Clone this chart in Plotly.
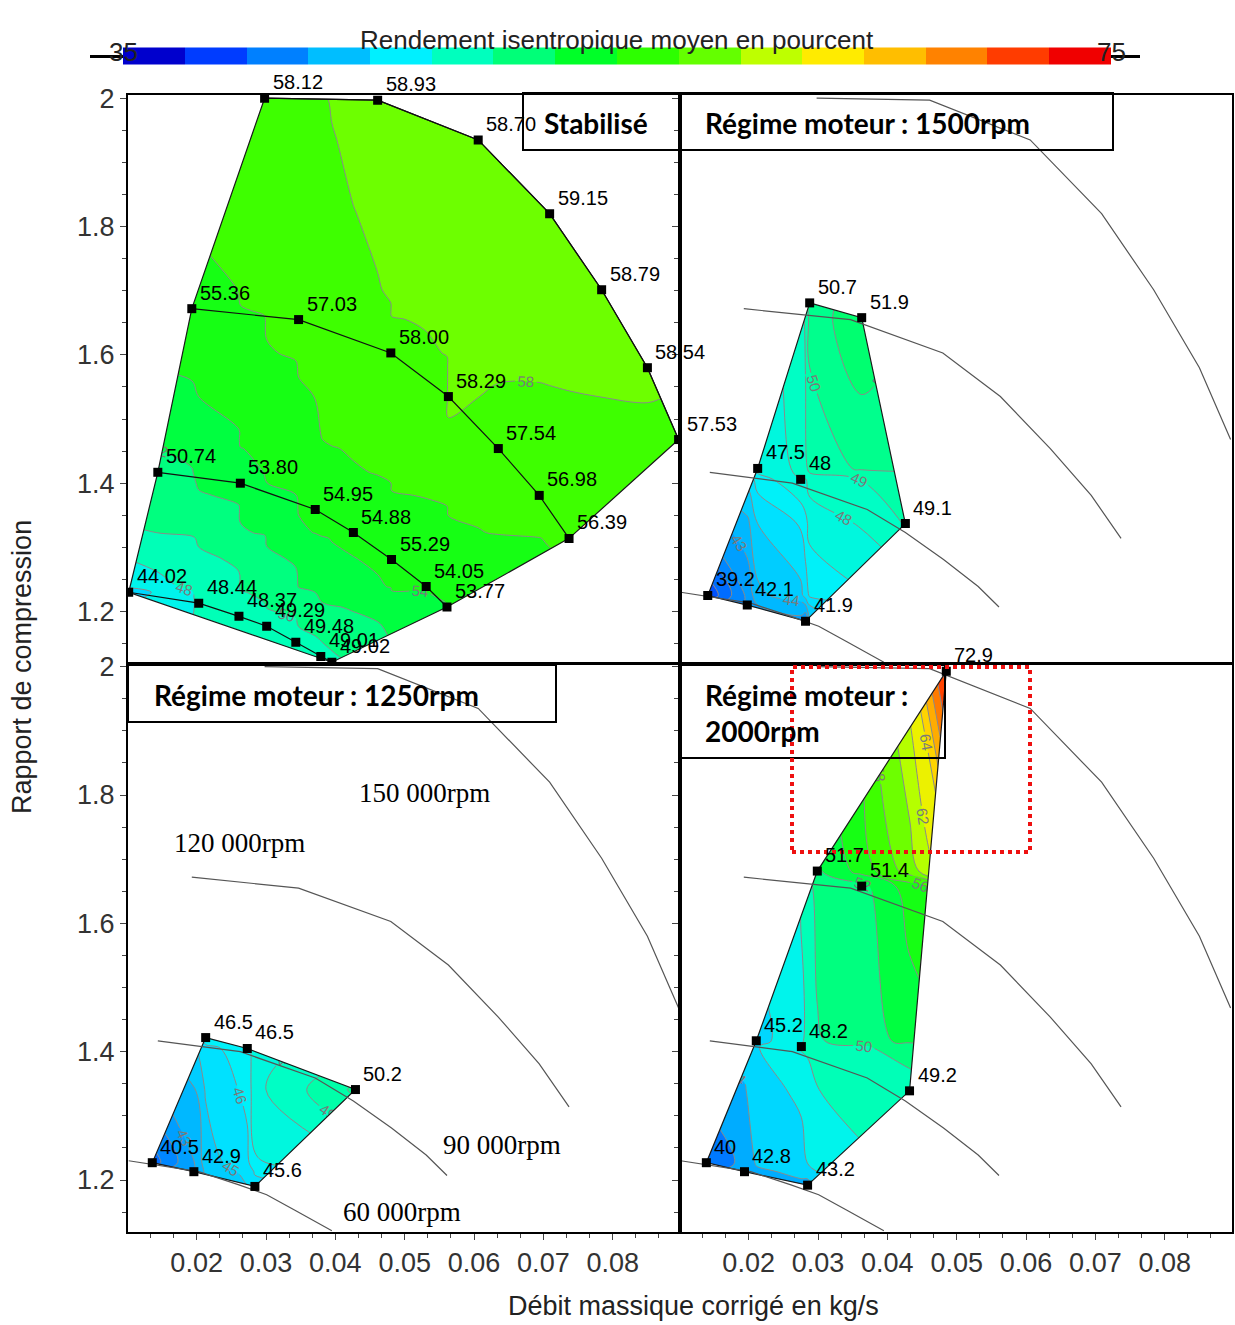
import plotly.graph_objects as go
from plotly.subplots import make_subplots

# ---------------------------------------------------------------
# Data
# x: corrected mass flow (kg/s), y: pressure ratio, eta: mean isentropic efficiency (%)
# ---------------------------------------------------------------
# Stabilised map: one list per iso-speed line
stab_150k_x = [0.0298, 0.0461, 0.0606, 0.0709, 0.0784, 0.0850, 0.0895]
stab_150k_y = [2.000, 1.997, 1.935, 1.820, 1.7015, 1.580, 1.468]
stab_150k_eta = [58.12, 58.93, 58.70, 59.15, 58.79, 58.54, 57.53]

stab_120k_x = [0.0193, 0.0347, 0.0480, 0.0563, 0.0635, 0.0694, 0.0737]
stab_120k_y = [1.672, 1.655, 1.603, 1.535, 1.454, 1.381, 1.314]
stab_120k_eta = [55.36, 57.03, 58.00, 58.29, 57.54, 56.98, 56.39]

stab_90k_x = [0.0144, 0.0263, 0.0371, 0.0426, 0.0481, 0.0531, 0.0561]
stab_90k_y = [1.417, 1.400, 1.359, 1.323, 1.281, 1.239, 1.207]
stab_90k_eta = [50.74, 53.80, 54.95, 54.88, 55.29, 54.05, 53.77]

stab_60k_x = [0.0102, 0.0203, 0.0261, 0.0301, 0.0343, 0.0379, 0.0395]
stab_60k_y = [1.230, 1.213, 1.1925, 1.177, 1.152, 1.130, 1.121]
stab_60k_eta = [44.02, 48.44, 48.37, 49.29, 49.48, 49.01, 49.02]

# Engine-speed maps: the first `*_outline` points go round the measured area,
# the remaining ones are inner points
r1500_x = [0.0288, 0.0363, 0.0426, 0.0282, 0.0198, 0.0141, 0.0213, 0.0275]
r1500_y = [1.681, 1.658, 1.337, 1.185, 1.210, 1.225, 1.423, 1.406]
r1500_eta = [50.7, 51.9, 49.1, 41.9, 42.1, 39.2, 47.5, 48.0]
r1500_outline = 7

r1250_x = [0.0213, 0.0273, 0.0429, 0.0284, 0.0196, 0.0136]
r1250_y = [1.422, 1.405, 1.341, 1.190, 1.213, 1.227]
r1250_eta = [46.5, 46.5, 50.2, 45.6, 42.9, 40.5]
r1250_outline = 6

r2000_x = [0.0485, 0.0432, 0.0285, 0.0194, 0.0139, 0.0211, 0.0299, 0.0363, 0.0276]
r2000_y = [1.993, 1.339, 1.192, 1.213, 1.227, 1.417, 1.6815, 1.658, 1.408]
r2000_eta = [72.9, 49.2, 43.2, 42.8, 40.0, 45.2, 51.7, 51.4, 48.2]
r2000_outline = 7

speed_names = ["150 000rpm", "120 000rpm", "90 000rpm", "60 000rpm"]
panel_titles = ["Stabilisé", "Régime moteur : 1500rpm",
                "Régime moteur : 1250rpm", "Régime moteur :<br>2000rpm"]
eta_min, eta_max = 35, 75
x_ticks = [0.02, 0.03, 0.04, 0.05, 0.06, 0.07, 0.08]
y_ticks = [1.2, 1.4, 1.6, 1.8, 2.0]
y_ticktext = ["1.2", "1.4", "1.6", "1.8", "2"]

# ---------------------------------------------------------------
# Styling helpers
# ---------------------------------------------------------------
W, H = 1235, 1325
ML, MR, MT, MB = 128, 3, 95, 93
PW, PH = W - ML - MR, H - MT - MB


def PX(px):
    return (px - ML) / PW


def PY(py):
    return 1 - (py - MT) / PH


ANCHORS = [(35, (0, 0, 190)), (36.25, (0, 0, 205)), (38.75, (0, 60, 255)),
           (41.25, (0, 128, 255)), (43.75, (0, 190, 255)), (46.25, (0, 240, 255)),
           (48.75, (0, 255, 190)), (51.25, (0, 255, 120)), (53.75, (0, 255, 40)),
           (56.25, (45, 255, 0)), (58.75, (100, 255, 0)), (61.25, (190, 255, 0)),
           (63.75, (255, 235, 0)), (66.25, (255, 190, 0)), (68.75, (255, 130, 0)),
           (71.25, (255, 60, 0)), (73.75, (240, 0, 0)), (75, (225, 0, 0))]


def eta_color(v):
    if v <= ANCHORS[0][0]:
        c = ANCHORS[0][1]
    elif v >= ANCHORS[-1][0]:
        c = ANCHORS[-1][1]
    else:
        for (v0, c0), (v1, c1) in zip(ANCHORS[:-1], ANCHORS[1:]):
            if v0 <= v <= v1:
                f = (v - v0) / (v1 - v0)
                c = tuple(a + (b - a) * f for a, b in zip(c0, c1))
                break
    return "rgb(%d,%d,%d)" % tuple(round(t) for t in c)


def contour_scale(start, end, size):
    nc = int((end - start) // size) + 1
    dmin = start - size / 2
    dmax = start + (nc - 0.5) * size
    n = 80
    return [[i / n, eta_color(dmin + (dmax - dmin) * i / n)] for i in range(n + 1)]


def bar_scale(nblocks=16):
    cs = []
    for i in range(nblocks):
        mid = eta_min + (eta_max - eta_min) * (i + 0.5) / nblocks
        c = eta_color(mid)
        cs.append([i / nblocks, c])
        cs.append([(i + 1) / nblocks, c])
    return cs


fig = make_subplots(rows=2, cols=2, horizontal_spacing=0, vertical_spacing=0)

LABEL_FONT = dict(family="Liberation Sans, Arial, sans-serif", size=20, color="black")


def signed_area(xs, ys):
    n = len(xs)
    return sum(xs[i] * ys[(i + 1) % n] - xs[(i + 1) % n] * ys[i] for i in range(n))


def add_panel(row, col, xs, ys, zs, outline_x, outline_y, start, end, size):
    # contour field (plotly interpolates the scattered points itself)
    fig.add_trace(go.Contour(
        x=xs, y=ys, z=zs, connectgaps=True, autocontour=False,
        contours=dict(start=start, end=end, size=size, coloring="fill",
                      showlabels=True,
                      labelfont=dict(size=15, color="#7a7a7a",
                                     family="Liberation Sans, Arial")),
        colorscale=contour_scale(start, end, size), showscale=False,
        line=dict(color="#8a8a8a", width=1, smoothing=1),
        hoverinfo="skip"), row=row, col=col)
    # white mask outside the measured area
    rx = [-0.02, 0.12, 0.12, -0.02]
    ry = [0.9, 0.9, 2.3, 2.3]
    px_, py_ = list(outline_x), list(outline_y)
    if (signed_area(rx, ry) > 0) == (signed_area(px_, py_) > 0):
        px_, py_ = px_[::-1], py_[::-1]
    mx = rx + [rx[0]] + px_ + [px_[0], rx[0]]
    my = ry + [ry[0]] + py_ + [py_[0], ry[0]]
    fig.add_trace(go.Scatter(x=mx, y=my, mode="lines", fill="toself",
                             fillcolor="white", line=dict(width=0, color="white"),
                             hoverinfo="skip", showlegend=False), row=row, col=col)
    # outline
    fig.add_trace(go.Scatter(x=list(outline_x) + [outline_x[0]],
                             y=list(outline_y) + [outline_y[0]],
                             mode="lines", line=dict(color="#1a1a1a", width=1.2),
                             hoverinfo="skip", showlegend=False), row=row, col=col)


def add_speed_lines(row, col, color, width):
    for lx, ly in [(stab_150k_x, stab_150k_y), (stab_120k_x, stab_120k_y),
                   (stab_90k_x, stab_90k_y), (stab_60k_x, stab_60k_y)]:
        fig.add_trace(go.Scatter(x=lx, y=ly, mode="lines",
                                 line=dict(color=color, width=width),
                                 hoverinfo="skip", showlegend=False), row=row, col=col)


def add_points(row, col, xs, ys, zs, fmt):
    fig.add_trace(go.Scatter(x=xs, y=ys, mode="markers",
                             marker=dict(symbol="square", size=9, color="black"),
                             text=[fmt.format(v) for v in zs],
                             hovertemplate="%{x}, %{y}: %{text}<extra></extra>",
                             showlegend=False), row=row, col=col)
    idx = (row - 1) * 2 + col
    xr = "x" if idx == 1 else "x%d" % idx
    yr = "y" if idx == 1 else "y%d" % idx
    for x, y, z in zip(xs, ys, zs):
        fig.add_annotation(x=x, y=y, xref=xr, yref=yr, text=fmt.format(z),
                           showarrow=False, xanchor="left", yanchor="middle",
                           xshift=6, yshift=16, font=LABEL_FONT)


# ---- Stabilisé (top-left)
stab_x = stab_150k_x + stab_120k_x + stab_90k_x + stab_60k_x
stab_y = stab_150k_y + stab_120k_y + stab_90k_y + stab_60k_y
stab_eta = stab_150k_eta + stab_120k_eta + stab_90k_eta + stab_60k_eta
stab_out_x = stab_150k_x + [stab_120k_x[-1], stab_90k_x[-1], stab_60k_x[-1],
                            stab_60k_x[0], stab_90k_x[0], stab_120k_x[0]]
stab_out_y = stab_150k_y + [stab_120k_y[-1], stab_90k_y[-1], stab_60k_y[-1],
                            stab_60k_y[0], stab_90k_y[0], stab_120k_y[0]]
add_panel(1, 1, stab_x, stab_y, stab_eta, stab_out_x, stab_out_y, 34, 76, 2)
add_speed_lines(1, 1, "#111111", 1.2)
add_points(1, 1, stab_x, stab_y, stab_eta, "{:.2f}")

# ---- 1500 rpm (top-right)
add_panel(1, 2, r1500_x, r1500_y, r1500_eta, r1500_x[:r1500_outline],
          r1500_y[:r1500_outline], 35, 75, 1)
add_speed_lines(1, 2, "#555555", 1.2)
add_points(1, 2, r1500_x, r1500_y, r1500_eta, "{:g}")

# ---- 1250 rpm (bottom-left)
add_panel(2, 1, r1250_x, r1250_y, r1250_eta, r1250_x[:r1250_outline],
          r1250_y[:r1250_outline], 35, 75, 1)
add_speed_lines(2, 1, "#555555", 1.2)
add_points(2, 1, r1250_x, r1250_y, r1250_eta, "{:g}")

# ---- 2000 rpm (bottom-right)
add_panel(2, 2, r2000_x, r2000_y, r2000_eta, r2000_x[:r2000_outline],
          r2000_y[:r2000_outline], 34, 76, 2)
add_speed_lines(2, 2, "#555555", 1.2)
add_points(2, 2, r2000_x, r2000_y, r2000_eta, "{:g}")

# ---- colour bar (discrete, 16 blocks)
fig.add_trace(go.Scatter(
    x=[0.05], y=[0.5], mode="markers", hoverinfo="skip", showlegend=False,
    marker=dict(size=1, color=[eta_min], cmin=eta_min, cmax=eta_max,
                colorscale=bar_scale(), showscale=True,
                colorbar=dict(orientation="h", x=PX(123), xanchor="left",
                              y=PY(55.5), yanchor="middle",
                              len=(1111 - 123) / PW, lenmode="fraction",
                              thickness=17, thicknessmode="pixels",
                              outlinewidth=0, showticklabels=False, ticks="",
                              xpad=0, ypad=0))), row=1, col=1)

# ---------------------------------------------------------------
# Axes
# ---------------------------------------------------------------
TICKFONT = dict(family="Liberation Sans, Arial, sans-serif", size=27, color="#333333")
for r in (1, 2):
    for c in (1, 2):
        fig.update_xaxes(range=[0.0101, 0.0897], showline=True, mirror=True,
                         linecolor="black", linewidth=2, ticks="outside", ticklen=6,
                         tickcolor="#444", tickvals=x_ticks, tickformat=".2f",
                         showgrid=False, zeroline=False, tickfont=TICKFONT,
                         showticklabels=(r == 2),
                         minor=dict(tick0=0.02, dtick=0.01 / 3, ticks="outside",
                                    ticklen=4, tickcolor="#444"),
                         row=r, col=c)
        fig.update_yaxes(range=[1.119, 2.005], showline=True, mirror=True,
                         linecolor="black", linewidth=2, ticks="outside", ticklen=6,
                         tickcolor="#444", tickvals=y_ticks, ticktext=y_ticktext,
                         showgrid=False, zeroline=False, tickfont=TICKFONT,
                         showticklabels=(c == 1),
                         minor=dict(tick0=1.2, dtick=0.05, ticks="outside",
                                    ticklen=4, tickcolor="#444"),
                         row=r, col=c)

# ---------------------------------------------------------------
# Shapes: dividers, title boxes, red dotted frame, colour-bar line
# ---------------------------------------------------------------
shapes = [
    dict(type="line", xref="paper", yref="paper", x0=0.5, x1=0.5, y0=0, y1=1,
         line=dict(color="black", width=4)),
    dict(type="line", xref="paper", yref="paper", x0=0, x1=1, y0=0.5, y1=0.5,
         line=dict(color="black", width=3)),
]
boxes = [(523, 680, 93, 150), (680, 1113, 93, 150), (128, 556, 665, 722), (681, 945, 665, 758)]
for x0, x1, y0, y1 in boxes:
    shapes.append(dict(type="rect", xref="paper", yref="paper", x0=PX(x0), x1=PX(x1),
                       y0=PY(y1), y1=PY(y0), line=dict(color="black", width=2)))
shapes.append(dict(type="rect", xref="paper", yref="paper", x0=PX(792), x1=PX(1030),
                   y0=PY(852), y1=PY(667), line=dict(color="#ee1111", width=4, dash="dot")))
shapes.append(dict(type="line", xref="paper", yref="paper", x0=PX(90), x1=PX(1140),
                   y0=PY(56.5), y1=PY(56.5), line=dict(color="black", width=3)))
fig.update_layout(shapes=shapes)

# panel titles
BOLD = dict(family="Lato, Carlito, sans-serif", size=28, color="black")
fig.add_annotation(xref="paper", yref="paper", x=PX(596), y=PY(123), text="<b>%s</b>" % panel_titles[0],
                   showarrow=False, xanchor="center", yanchor="middle", font=BOLD)
fig.add_annotation(xref="paper", yref="paper", x=PX(703), y=PY(123), text="<b>%s</b>" % panel_titles[1],
                   showarrow=False, xanchor="left", yanchor="middle", font=BOLD)
fig.add_annotation(xref="paper", yref="paper", x=PX(152), y=PY(695), text="<b>%s</b>" % panel_titles[2],
                   showarrow=False, xanchor="left", yanchor="middle", font=BOLD)
fig.add_annotation(xref="paper", yref="paper", x=PX(703), y=PY(713),
                   text="<b>Régime moteur :</b><br><b>2000rpm</b>",
                   showarrow=False, xanchor="left", yanchor="middle", align="left", font=BOLD)

# speed labels (bottom-left panel)
SERIF = dict(family="Liberation Serif, serif", size=27, color="black")
speed_label_pos = [(0.0529, 1.803), (0.0262, 1.725), (0.0641, 1.254), (0.0496, 1.150)]
for name, (sx, sy) in zip(speed_names, speed_label_pos):
    fig.add_annotation(x=sx, y=sy, xref="x3", yref="y3", text=name, showarrow=False,
                       xanchor="center", yanchor="middle", font=SERIF)

# colour bar title and end labels
CB = dict(family="Liberation Sans, Arial, sans-serif", size=26, color="#222")
AX = dict(family="Liberation Sans, Arial, sans-serif", size=27, color="#222")
fig.add_annotation(xref="paper", yref="paper", x=PX(617), y=PY(40),
                   text="Rendement isentropique moyen en pourcent", showarrow=False,
                   xanchor="center", yanchor="middle", font=CB)
fig.add_annotation(xref="paper", yref="paper", x=PX(123), y=PY(52), text=str(eta_min),
                   showarrow=False, xanchor="center", yanchor="middle", font=CB)
fig.add_annotation(xref="paper", yref="paper", x=PX(1111), y=PY(52), text=str(eta_max),
                   showarrow=False, xanchor="center", yanchor="middle", font=CB)

# axis titles
fig.add_annotation(xref="paper", yref="paper", x=PX(22), y=PY(667),
                   text="Rapport de compression", textangle=-90, showarrow=False,
                   xanchor="center", yanchor="middle", font=AX)
fig.add_annotation(xref="paper", yref="paper", x=PX(693), y=PY(1306),
                   text="Débit massique corrigé en kg/s", showarrow=False,
                   xanchor="center", yanchor="middle", font=AX)

fig.update_layout(width=W, height=H,
                  margin=dict(l=ML, r=MR, t=MT, b=MB, autoexpand=False),
                  paper_bgcolor="white", plot_bgcolor="white", showlegend=False)

fig.write_html("out.html", config={"displayModeBar": False},
               post_script="document.body.style.margin='0';"
                           "document.body.style.overflow='hidden';")
